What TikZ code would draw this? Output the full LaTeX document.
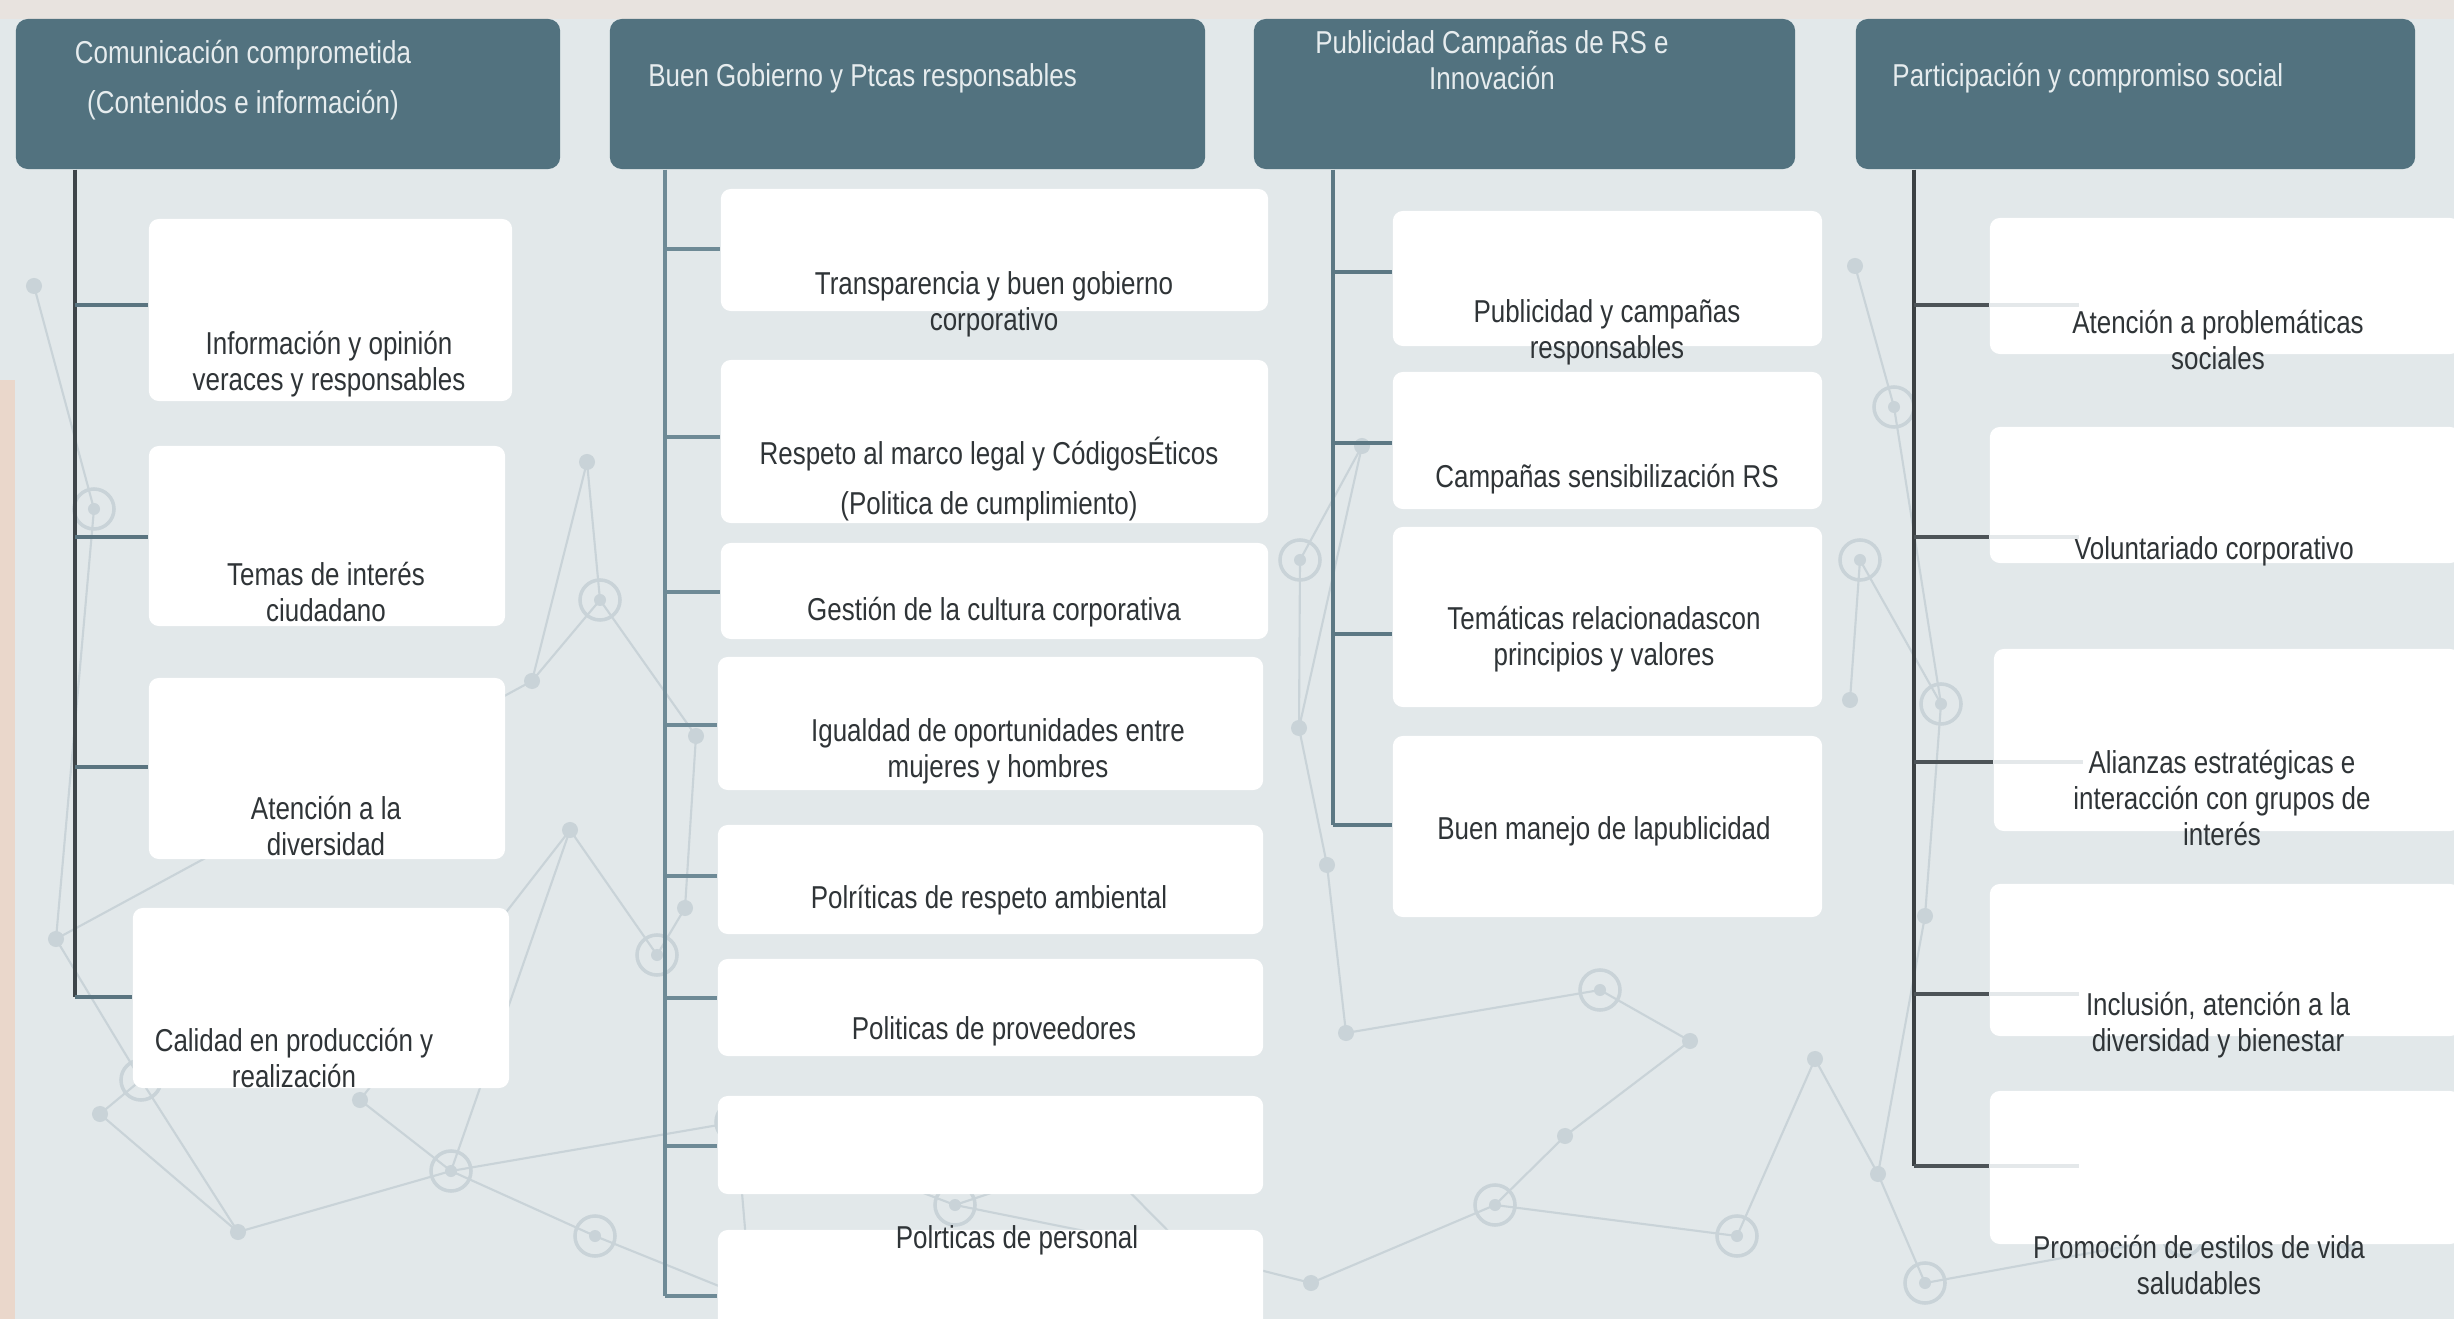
\documentclass[tikz,border=0pt]{standalone}
\usepackage{fontspec}
\setmainfont{Liberation Sans}[FakeStretch=0.82]
\definecolor{bgpale}{HTML}{E2E8EA}
\definecolor{netgrey}{HTML}{C9D3D8}
\definecolor{topband}{HTML}{E8E3DF}
\definecolor{leftband}{HTML}{EAD7CB}
\definecolor{headslate}{HTML}{52727F}
\definecolor{headtext}{HTML}{E6ECEE}
\definecolor{boxink}{HTML}{2F3437}
\definecolor{trunkA}{HTML}{3E4549}
\definecolor{branchA}{HTML}{5A7480}
\definecolor{trunkB}{HTML}{6E8A96}
\definecolor{trunkC}{HTML}{5C7884}
\definecolor{trunkD}{HTML}{3B4043}
\definecolor{branchD}{HTML}{4C5357}
\definecolor{fadeline}{HTML}{E4E8EA}
\newcommand{\rsfont}{\fontsize{9}{10.2}\selectfont}
\tikzset{
  rshead/.style   = {fill=headslate, rounded corners=1.2mm, inner sep=0pt, minimum height=1.50cm},
  rshtxt/.style   = {font=\rsfont, text=headtext, align=center},
  rsbox/.style    = {fill=white, rounded corners=1mm, inner sep=0pt},
  rstxt/.style    = {font=\rsfont, text=boxink, align=center},
  rstrunk/.style  = {line width=0.9pt},
  rsbranch/.style = {line width=1.1pt},
  rsfade/.style   = {draw=fadeline, line width=1.1pt},
  rsnet/.style    = {draw=netgrey, line width=0.6pt},
}
\begin{document}
\begin{tikzpicture}[x=0.01cm, y=-0.01cm]
\useasboundingbox (0,0) rectangle (2454,1319);
\fill[bgpale] (0,0) rectangle (2454,1319);
\fill[topband] (0,0) rectangle (2454,19);
\fill[leftband] (0,380) rectangle (15,1319);

% red de fondo
\foreach \n/\p in {1/{34,286}, 2/{94,509}, 3/{587,462}, 4/{532,681}, 5/{56,939},
    6/{100,1114}, 7/{141,1080}, 8/{360,1100}, 9/{238,1232}, 10/{451,1171},
    11/{751,1299}, 12/{736,1122}, 13/{595,1236}, 14/{955,1205}, 15/{1096,1158},
    16/{1189,1252}, 17/{1311,1283}, 18/{1495,1205}, 19/{1565,1136}, 20/{1737,1236},
    21/{1815,1059}, 22/{1878,1174}, 23/{1925,1283}, 24/{2183,1236}, 25/{2348,1244},
    26/{1925,916}, 27/{1941,704}, 28/{1894,407}, 29/{1855,266}, 30/{1362,446},
    31/{1327,865}, 32/{1299,728}, 33/{1346,1033}, 34/{1690,1041}, 35/{685,908},
    36/{696,736}, 37/{657,955}, 38/{1600,990}, 39/{570,830}, 40/{600,600},
    41/{1300,560}, 42/{1850,700}, 43/{1860,560}}
  \coordinate (n\n) at (\p);
\foreach \a/\b in {1/2, 2/5, 5/7, 7/6, 7/9, 6/9, 9/10, 8/10, 10/13, 13/11, 10/12,
    12/14, 12/11, 14/15, 15/16, 16/17, 14/16, 17/18, 18/19, 18/20, 19/34, 20/21,
    21/22, 22/23, 23/24, 24/25, 22/26, 26/27, 27/28, 28/29, 27/43, 43/42, 30/32,
    32/31, 31/33, 33/38, 38/34, 3/4, 4/40, 40/36, 36/35, 35/37, 37/39, 39/10,
    3/40, 41/32, 41/30, 8/39, 5/4}
  \draw[rsnet] (n\a) -- (n\b);
\foreach \n in {1,3,4,5,6,8,9,11,15,17,19,21,22,25,26,29,30,31,32,33,34,35,36,39,42}
  \fill[netgrey] (n\n) circle[radius=0.08cm];
\foreach \n in {2,7,10,12,13,14,16,18,20,23,24,27,28,37,38,40,41,43} {
  \draw[rsnet, line width=1pt] (n\n) circle[radius=0.2cm];
  \fill[netgrey] (n\n) circle[radius=0.06cm];
}

% cabeceras
\node[rshead, minimum width=5.44cm] (h1) at (288,94) {};
\node[rshead, minimum width=5.95cm] (h2) at (907.5,94) {};
\node[rshead, minimum width=5.41cm] (h3) at (1524.5,94) {};
\node[rshead, minimum width=5.59cm] (h4) at (2135.5,94) {};
\node[rshtxt] (h1t) at (243,80) {Comunicación comprometida\\[4pt](Contenidos e información)};
\node[rshtxt, anchor=west] (h2t) at (636,78) {Buen Gobierno y Ptcas responsables};
\node[rshtxt] (h3t) at (1492,60) {Publicidad Campañas de RS e\\Innovación};
\node[rshtxt, anchor=west] (h4t) at (1880,78) {Participación y compromiso social};

% columna 1
\node[rsbox, minimum width=3.63cm, minimum height=1.82cm] (a1) at (330.5,310) {};
\node[rsbox, minimum width=3.56cm, minimum height=1.80cm] (a2) at (327,536) {};
\node[rsbox, minimum width=3.56cm, minimum height=1.81cm] (a3) at (327,768.5) {};
\node[rsbox, minimum width=3.76cm, minimum height=1.80cm] (a4) at (321,998) {};
\node[rstxt] (a1t) at (329,364) {Información y opinión\\veraces y responsables};
\node[rstxt] (a2t) at (326,592) {Temas de interés\\ciudadano};
\node[rstxt] (a3t) at (326,826) {Atención a la\\diversidad};
\node[rstxt] (a4t) at (294,1058) {Calidad en producción y\\realización};
\coordinate (j11) at (75,305);
\coordinate (j12) at (75,537);
\coordinate (j13) at (75,767);
\coordinate (j14) at (75,997);
\draw[rstrunk, draw=trunkA] (h1.south -| j11) -- (j14);
\foreach \j/\b in {11/a1, 12/a2, 13/a3, 14/a4}
  \draw[rsbranch, draw=branchA] (j\j) -- (\b.west |- j\j);

% columna 2
\node[rsbox, minimum width=5.47cm, minimum height=1.22cm] (b1) at (994.5,250) {};
\node[rsbox, minimum width=5.47cm, minimum height=1.63cm] (b2) at (994.5,441.5) {};
\node[rsbox, minimum width=5.47cm, minimum height=0.96cm] (b3) at (994.5,591) {};
\node[rsbox, minimum width=5.45cm, minimum height=1.33cm] (b4) at (990.5,723.5) {};
\node[rsbox, minimum width=5.45cm, minimum height=1.09cm] (b5) at (990.5,879.5) {};
\node[rsbox, minimum width=5.45cm, minimum height=0.97cm] (b6) at (990.5,1007.5) {};
\node[rsbox, minimum width=5.45cm, minimum height=0.98cm] (b7) at (990.5,1145) {};
\node[rsbox, minimum width=5.45cm, minimum height=1.32cm] (b8) at (990.5,1296) {};
\node[rstxt] (b1t) at (994,304) {Transparencia y buen gobierno\\corporativo};
\node[rstxt] (b2t) at (989,479) {Respeto al marco legal y CódigosÉticos\\[4pt](Politica de cumplimiento)};
\node[rstxt] (b3t) at (994,612) {Gestión de la cultura corporativa};
\node[rstxt] (b4t) at (998,751) {Igualdad de oportunidades entre\\mujeres y hombres};
\node[rstxt] (b5t) at (989,900) {Polríticas de respeto ambiental};
\node[rstxt] (b6t) at (994,1031) {Politicas de proveedores};
\node[rstxt] (b8t) at (1017,1240) {Polrticas de personal};
\coordinate (j21) at (665,249);
\coordinate (j22) at (665,437);
\coordinate (j23) at (665,592);
\coordinate (j24) at (665,725);
\coordinate (j25) at (665,876);
\coordinate (j26) at (665,998);
\coordinate (j27) at (665,1146);
\coordinate (j28) at (665,1296);
\draw[rstrunk, draw=trunkB] (h2.south -| j21) -- (j28);
\foreach \j/\b in {21/b1, 22/b2, 23/b3, 24/b4, 25/b5, 26/b6, 27/b7, 28/b8}
  \draw[rsbranch, draw=trunkB] (j\j) -- (\b.west |- j\j);

% columna 3
\node[rsbox, minimum width=4.29cm, minimum height=1.35cm] (c1) at (1607.5,278.5) {};
\node[rsbox, minimum width=4.29cm, minimum height=1.37cm] (c2) at (1607.5,440.5) {};
\node[rsbox, minimum width=4.29cm, minimum height=1.80cm] (c3) at (1607.5,617) {};
\node[rsbox, minimum width=4.29cm, minimum height=1.81cm] (c4) at (1607.5,826.5) {};
\node[rstxt] (c1t) at (1607,332) {Publicidad y campañas\\responsables};
\node[rstxt] (c2t) at (1607,479) {Campañas sensibilización RS};
\node[rstxt] (c3t) at (1604,639) {Temáticas relacionadascon\\principios y valores};
\node[rstxt] (c4t) at (1604,831) {Buen manejo de lapublicidad};
\coordinate (j31) at (1333,272);
\coordinate (j32) at (1333,443);
\coordinate (j33) at (1333,634);
\coordinate (j34) at (1333,825);
\draw[rstrunk, draw=trunkC] (h3.south -| j31) -- (j34);
\foreach \j/\b in {31/c1, 32/c2, 33/c3, 34/c4}
  \draw[rsbranch, draw=trunkC] (j\j) -- (\b.west |- j\j);

% columna 4
\node[rsbox, minimum width=4.70cm, minimum height=1.36cm] (d1) at (2225,286) {};
\node[rsbox, minimum width=4.70cm, minimum height=1.36cm] (d2) at (2225,495) {};
\node[rsbox, minimum width=4.66cm, minimum height=1.82cm] (d3) at (2227,740) {};
\node[rsbox, minimum width=4.70cm, minimum height=1.52cm] (d4) at (2225,960) {};
\node[rsbox, minimum width=4.70cm, minimum height=1.53cm] (d5) at (2225,1167.5) {};
\node[rstxt] (d1t) at (2218,340) {Atención a problemáticas\\sociales};
\node[rstxt] (d2t) at (2214,551) {Voluntariado corporativo};
\node[rstxt] (d3t) at (2222,798) {Alianzas estratégicas e\\interacción con grupos de\\interés};
\node[rstxt] (d4t) at (2218,1025) {Inclusión, atención a la\\diversidad y bienestar};
\node[rstxt] (d5t) at (2199,1265) {Promoción de estilos de vida\\saludables};
\coordinate (j41) at (1914,305);
\coordinate (j42) at (1914,537);
\coordinate (j43) at (1914,762);
\coordinate (j44) at (1914,994);
\coordinate (j45) at (1914,1166);
\draw[rstrunk, draw=trunkD] (h4.south -| j41) -- (j45);
\foreach \j/\b in {41/d1, 42/d2, 43/d3, 44/d4, 45/d5} {
  \draw[rsbranch, draw=branchD] (j\j) -- (\b.west |- j\j);
  \draw[rsfade] (\b.west |- j\j) -- ++(90,0);
}
\end{tikzpicture}
\end{document}
